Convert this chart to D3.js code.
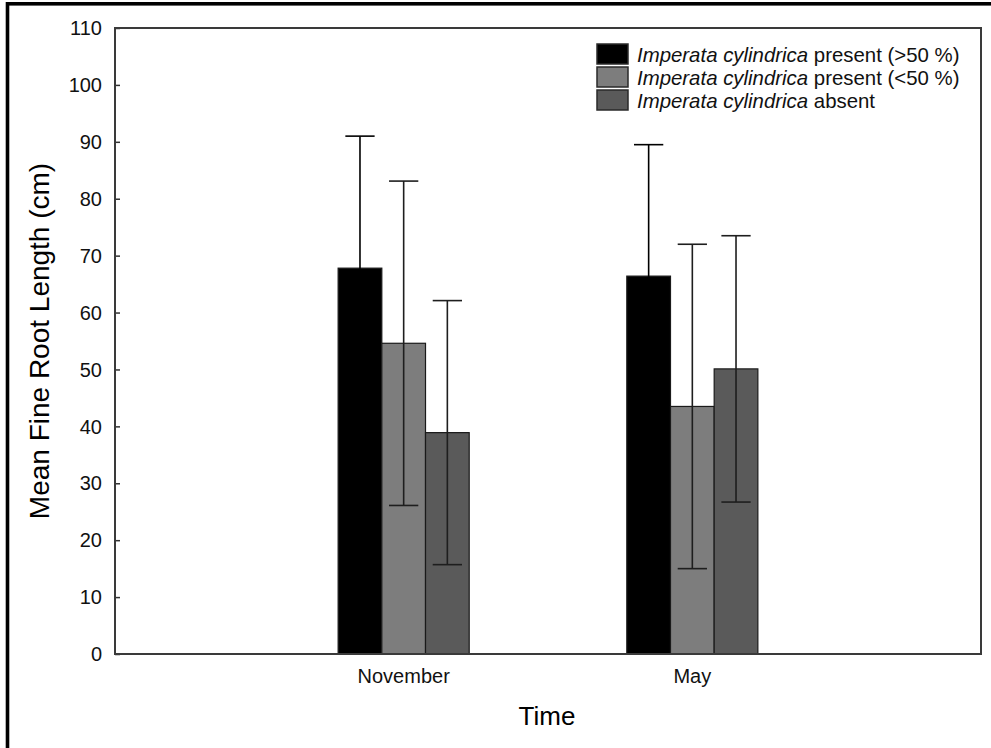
<!DOCTYPE html>
<html><head><meta charset="utf-8">
<script src="https://cdn.jsdelivr.net/npm/d3@7"></script>
<style>
html,body{margin:0;padding:0;background:#fff;overflow:hidden}
svg{display:block;font-family:Arial,"Liberation Sans",sans-serif}
</style></head>
<body>
<svg id="chart" width="991" height="748"></svg>
<script>
const months = ["November", "May"];
const seriesKeys = ["present (>50 %)", "present (<50 %)", "absent"];
const seriesColors = ["#000000", "#7d7d7d", "#5a5a5a"];
// means per series, in month order
const meanHigh = [67.8, 66.4];
const meanLow = [54.6, 43.5];
const meanAbsent = [38.9, 50.1];
// error (half-width) per series, in month order
const errHigh = [23.2, 23.1];
const errLow = [28.5, 28.5];
const errAbsent = [23.2, 23.4];
const yTicks = [0, 10, 20, 30, 40, 50, 60, 70, 80, 90, 100, 110];

const means = [meanHigh, meanLow, meanAbsent];
const errs = [errHigh, errLow, errAbsent];

const svg = d3.select("#chart");
const L = 115, R = 981, T = 28, B = 654;

// outer frame (cropped on right/bottom)
svg.append("rect").attr("x", 7.5).attr("y", 3.8).attr("width", 1100).attr("height", 900)
  .attr("fill", "none").attr("stroke", "#000").attr("stroke-width", 3.6);

const y = d3.scaleLinear().domain([0, 110]).range([B, T]);
const x0 = d3.scalePoint().domain(months).range([L, R]).padding(1);
const gw = x0.step() * 0.454;
const x1 = d3.scaleBand().domain(seriesKeys).range([-gw / 2, gw / 2]).padding(0);

// y axis ticks (inward) + labels
const yAxis = d3.axisRight(y).tickValues(yTicks).tickSize(5).tickFormat("");
const gy = svg.append("g").attr("transform", `translate(${L},0)`).call(yAxis);
gy.select(".domain").remove();
gy.selectAll("line").attr("stroke", "#333").attr("stroke-width", 1.5);
svg.append("g").selectAll("text").data(yTicks).join("text")
  .attr("x", L - 13).attr("y", d => y(d)).attr("dy", "0.36em")
  .attr("text-anchor", "end").attr("font-size", 20).attr("fill", "#111")
  .text(d => d);

// x axis ticks (inward)
const xAxis = d3.axisTop(x0).tickSize(5).tickFormat("");
const gx = svg.append("g").attr("transform", `translate(0,${B})`).call(xAxis);
gx.select(".domain").remove();
gx.selectAll("line").attr("stroke", "#333").attr("stroke-width", 1.5);
svg.append("g").selectAll("text").data(months).join("text")
  .attr("x", d => x0(d)).attr("y", 683).attr("text-anchor", "middle")
  .attr("font-size", 20).attr("fill", "#111").text(d => d);

// bars
const data = [];
months.forEach((m, mi) => seriesKeys.forEach((s, si) => {
  data.push({m, s, si, v: means[si][mi], e: errs[si][mi]});
}));
const g = svg.append("g");
g.selectAll("rect.bar").data(data).join("rect").attr("class", "bar")
  .attr("x", d => x0(d.m) + x1(d.s)).attr("width", x1.bandwidth())
  .attr("y", d => y(d.v)).attr("height", d => y(0) - y(d.v))
  .attr("fill", d => seriesColors[d.si]).attr("stroke", "#1a1a1a").attr("stroke-width", 1.2);

// error bars
const capW = x1.bandwidth() * 0.67;
const eb = svg.append("g").attr("stroke-width", 1.6);
data.forEach(d => {
  const cx = x0(d.m) + x1(d.s) + x1.bandwidth() / 2;
  const col = d.si === 0 ? "#000" : "#1e1e1e";
  eb.append("line").attr("stroke", col).attr("x1", cx).attr("x2", cx).attr("y1", y(d.v + d.e)).attr("y2", y(d.v - d.e));
  eb.append("line").attr("stroke", col).attr("x1", cx - capW / 2).attr("x2", cx + capW / 2).attr("y1", y(d.v + d.e)).attr("y2", y(d.v + d.e));
  eb.append("line").attr("stroke", col).attr("x1", cx - capW / 2).attr("x2", cx + capW / 2).attr("y1", y(d.v - d.e)).attr("y2", y(d.v - d.e));
});

// plot frame
svg.append("rect").attr("x", L).attr("y", T).attr("width", R - L).attr("height", B - T)
  .attr("fill", "none").attr("stroke", "#3a3a3a").attr("stroke-width", 2);

// axis titles
svg.append("text").attr("x", (L + R) / 2 - 1).attr("y", 725).attr("text-anchor", "middle")
  .attr("font-size", 26).attr("fill", "#000").text("Time");
svg.append("text").attr("transform", `translate(49,${(T + B) / 2}) rotate(-90)`)
  .attr("text-anchor", "middle").attr("font-size", 28).attr("fill", "#000")
  .text("Mean Fine Root Length (cm)");

// legend
const lg = svg.append("g");
seriesKeys.forEach((s, i) => {
  const yy = 44 + i * 23;
  lg.append("rect").attr("x", 597).attr("y", yy).attr("width", 31).attr("height", 20)
    .attr("fill", seriesColors[i]).attr("stroke", "#2a2a2a").attr("stroke-width", 1.5);
  const t = lg.append("text").attr("x", 637).attr("y", yy + 17.5).attr("font-size", 20.4).attr("fill", "#111");
  t.append("tspan").attr("font-style", "italic").text("Imperata cylindrica");
  t.append("tspan").text(" " + s);
});
</script>
</body></html>
